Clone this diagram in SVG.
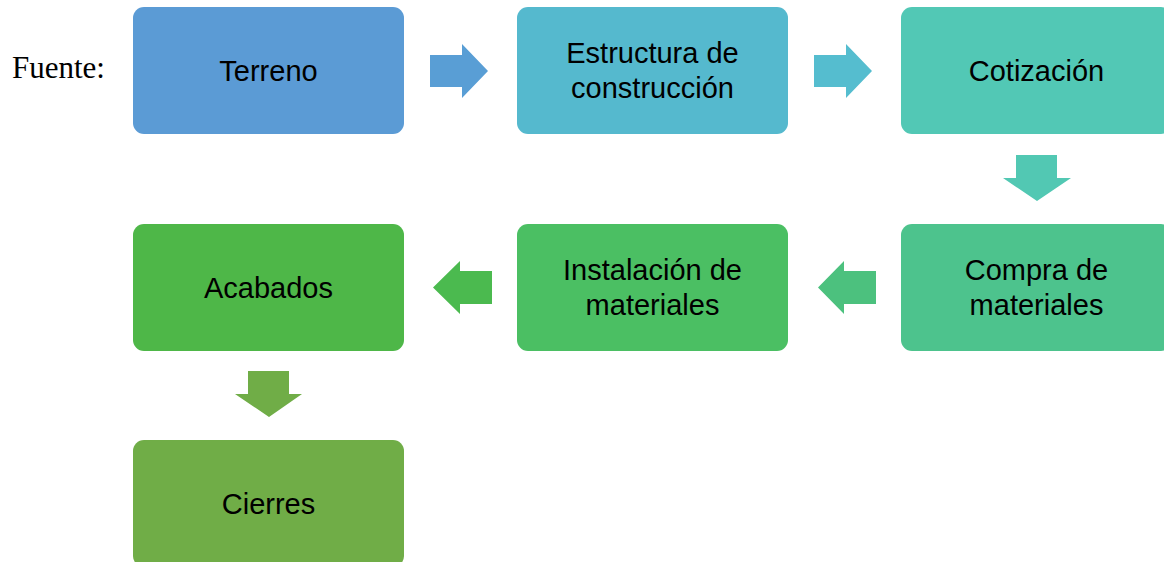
<svg xmlns="http://www.w3.org/2000/svg" width="1164" height="562" viewBox="0 0 1164 562">
<style>
.box{stroke:none}
.t{font-family:"Liberation Sans",Arial,sans-serif;font-size:29px;fill:#000;text-anchor:middle}
.src{font-family:"Liberation Serif","Times New Roman",serif;font-size:31px;fill:#000}
</style>
<rect width="1164" height="562" fill="#fff"/>
<text class="src" x="12" y="78">Fuente:</text>
<g id="connectors">
<polygon points="430,55 462,55 462,44 488,71 462,98 462,87 430,87" fill="#599ED5"/>
<polygon points="814,55 846,55 846,44 872,71 846,98 846,87 814,87" fill="#55BDCF"/>
<polygon points="1016,155 1057,155 1057,178 1071,178 1037,201 1003,178 1016,178" fill="#52C8B3"/>
<polygon points="876,271 844,271 844,261 818,287.5 844,314 844,304 876,304" fill="#4CC17E"/>
<polygon points="492,271 460,271 460,261 433,287.5 460,314 460,304 492,304" fill="#4BBA4F"/>
<polygon points="248,371 289,371 289,394 302,394 269,417 235,394 248,394" fill="#70AD47"/>
</g>
<g id="n1"><rect class="box" x="133" y="7" width="271" height="127" rx="11" fill="#5B9BD5"/><text class="t" x="268.5" y="81">Terreno</text></g>
<g id="n2"><rect class="box" x="517" y="7" width="271" height="127" rx="11" fill="#55B9CE"/><text class="t" x="652.5" y="63">Estructura de</text><text class="t" x="652.5" y="98">construcción</text></g>
<g id="n3"><rect class="box" x="901" y="7" width="271" height="127" rx="11" fill="#52C8B5"/><text class="t" x="1036.5" y="81">Cotización</text></g>
<g id="n4"><rect class="box" x="901" y="224" width="271" height="127" rx="11" fill="#4DC38D"/><text class="t" x="1036.5" y="280">Compra de</text><text class="t" x="1036.5" y="315">materiales</text></g>
<g id="n5"><rect class="box" x="517" y="224" width="271" height="127" rx="11" fill="#4BBF63"/><text class="t" x="652.5" y="280">Instalación de</text><text class="t" x="652.5" y="315">materiales</text></g>
<g id="n6"><rect class="box" x="133" y="224" width="271" height="127" rx="11" fill="#4EB748"/><text class="t" x="268.5" y="297.5">Acabados</text></g>
<g id="n7"><rect class="box" x="133" y="440" width="271" height="127" rx="11" fill="#70AD47"/><text class="t" x="268.5" y="513.5">Cierres</text></g>
</svg>
